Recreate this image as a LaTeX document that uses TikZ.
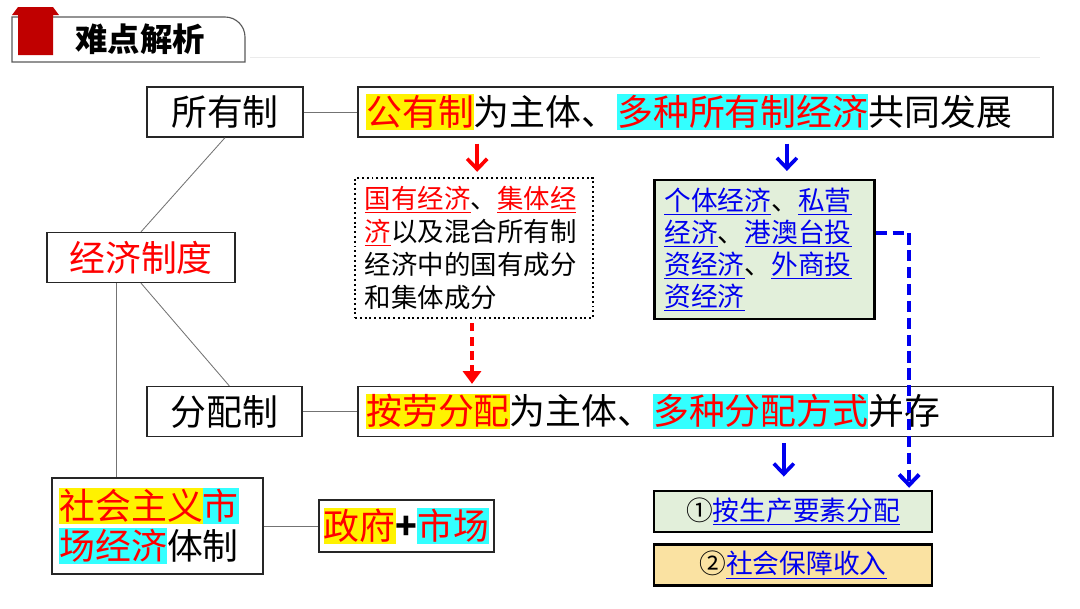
\documentclass[tikz,border=0pt]{standalone}
\usepackage{fontspec}
\newfontfamily\zh{Noto Sans CJK SC}
\usetikzlibrary{arrows.meta, positioning, calc}

\definecolor{hdred}{HTML}{C00000}
\definecolor{hlcyan}{HTML}{33FFFF}
\definecolor{boxgreen}{HTML}{E2EFDA}
\definecolor{boxorange}{HTML}{FAE2A2}
\definecolor{linkblue}{HTML}{0000EE}
\definecolor{framegray}{HTML}{595959}

\newcommand{\hly}[1]{{\setlength{\fboxsep}{0pt}\colorbox{yellow}{\rule[-0.12em]{0pt}{0.98em}#1}}}
\newcommand{\hlc}[1]{{\setlength{\fboxsep}{0pt}\colorbox{hlcyan}{\rule[-0.12em]{0pt}{0.98em}#1}}}
\newcommand{\redul}[1]{\textcolor{red}{\underline{#1}}}
\newcommand{\blink}[1]{\textcolor{linkblue}{\underline{#1}}}
\newcommand{\bigzh}{\zh\fontsize{25.5}{30}\selectfont}
\newcommand{\smallzh}{\zh\fontsize{19}{23}\selectfont}

\begin{document}
\begin{tikzpicture}[
  x=0.025cm, y=-0.025cm,
  keybox/.style={
    rectangle, draw=black!85, line width=0.9pt, fill=white,
    minimum height=1.25cm, inner sep=0pt, font=\bigzh
  },
  longbox/.style={
    keybox, minimum width=17.375cm, text width=16.95cm, align=left
  },
  redbox/.style={
    rectangle, draw=black, line width=1.4pt, dotted, fill=white,
    minimum width=5.95cm, minimum height=3.5cm,
    text width=5.45cm, align=left,
    font=\zh\fontsize{18.8}{23.4}\selectfont
  },
  bluebox/.style={
    rectangle, draw=black, line width=1.6pt, fill=boxgreen,
    minimum width=5.5cm, minimum height=3.47cm,
    text width=5.0cm, align=left,
    font=\zh\fontsize{19}{22.7}\selectfont
  },
  waybox/.style={
    rectangle, draw=black, line width=1.6pt,
    minimum width=6.95cm, minimum height=1.03cm,
    inner sep=0pt, font=\smallzh
  },
  conn/.style={draw=black!55, line width=0.6pt},
  redarr/.style={
    draw=red, line width=2.6pt,
    -{Straight Barb[length=2.6mm,width=5mm]}
  },
  bluearr/.style={
    draw=linkblue, line width=2.6pt,
    -{Straight Barb[length=2.6mm,width=5mm]}
  }
]
\useasboundingbox (0,0) rectangle (1080,608);

% Header tab
\draw[framegray, line width=0.8pt] (12,62) -- (12,17) -- (225,17)
  to[out=0,in=90] (245,37) -- (245,62) -- cycle;
\fill[hdred] (12,15) -- (18,7) -- (53,7) -- (59,15) -- (53,15)
  -- (53,55) -- (18,55) -- (18,15) -- cycle;
\node[font=\zh\bfseries\fontsize{23}{26}\selectfont] (title) at (140,39) {难点解析};
\draw[black!8, line width=0.6pt] (250,57) -- (1040,57);

% Left column
\node[keybox, minimum width=3.9cm] (suoyou) at (225,112) {所有制};
\node[keybox, minimum width=4.7cm, text=red] (jingji) at (141,257.5) {经济制度};
\node[keybox, minimum width=3.88cm] (fenpei) at (224.5,411.5) {分配制};
\node[keybox, minimum width=5.28cm, minimum height=2.4cm,
  text width=4.9cm, align=left,
  font=\zh\fontsize{25.5}{28.5}\selectfont] (shichang) at (157.5,526)
  {\hly{\textcolor{red}{社会主义}}\hlc{\textcolor{red}{市}}\\\hlc{\textcolor{red}{场经济}}体制};
\node[keybox, minimum width=4.38cm, minimum height=1.3cm] (zhengfu) at (406.5,526)
  {\hly{\textcolor{red}{政府}}\textbf{+}\hlc{\textcolor{red}{市场}}};

% Main statements
\node[longbox] (gongyou) at (705.5,112)
  {\hly{\textcolor{red}{公有制}}为主体、\hlc{\textcolor{red}{多种所有制经济}}共同发展};
\node[longbox] (anlao) at (705.5,411.5)
  {\hly{\textcolor{red}{按劳分配}}为主体、\hlc{\textcolor{red}{多种分配方式}}并存};

% Details
\node[redbox] (gongzhi) at (474,248)
  {\redul{国有经济}、\redul{集体经}\\\redul{济}以及混合所有制\\经济中的国有成分\\和集体成分};
\node[bluebox] (feigong) at (764.5,249.5)
  {\blink{个体经济}、\blink{私营}\\\blink{经济}、\blink{港澳台投}\\\blink{资经济}、\blink{外商投}\\\blink{资经济}};
\node[waybox, fill=boxgreen] (yaosu) at (793,511.5) {①\blink{按生产要素分配}};
\node[waybox, fill=boxorange] (baozhang) at (793,565) {②\blink{社会保障收入}};

% Tree lines
\draw[conn] (suoyou) -- (gongyou);
\draw[conn] (fenpei) -- (anlao);
\draw[conn] (jingji.north) -- (suoyou.south);
\draw[conn] (jingji.south) -- ([xshift=0.12cm]fenpei.north);
\coordinate (vtop) at ($(jingji.south west)!0.37!(jingji.south east)$);
\draw[conn] (vtop) -- (vtop |- shichang.north);
\draw[conn] (shichang) -- (zhengfu);

% Arrows
\draw[redarr, shorten <=0.15cm, shorten >=0.13cm]
  ([xshift=0.08cm]gongzhi.north |- gongyou.south) -- ([xshift=0.08cm]gongzhi.north);
\draw[bluearr, shorten <=0.15cm, shorten >=0.2cm]
  ([xshift=0.56cm]feigong.north |- gongyou.south) -- ([xshift=0.56cm]feigong.north);
\draw[draw=red, line width=3pt, dash pattern=on 6pt off 4pt,
  -{Triangle[length=3.2mm,width=4.5mm]}, shorten <=0.1cm, shorten >=0.05cm]
  ([xshift=-0.05cm]gongzhi.south) -- ([xshift=-0.05cm]gongzhi.south |- anlao.north);
\draw[draw=linkblue, line width=2.8pt, dash pattern=on 8pt off 4pt,
  -{Straight Barb[length=2.6mm,width=5mm]}, shorten >=0.05cm]
  ([yshift=0.41cm]feigong.east) -| ([xshift=-0.6cm]yaosu.north east);
\draw[bluearr, shorten <=0.15cm, shorten >=0.33cm]
  ([xshift=-0.23cm]yaosu.north |- anlao.south) -- ([xshift=-0.23cm]yaosu.north);

\end{tikzpicture}
\end{document}
